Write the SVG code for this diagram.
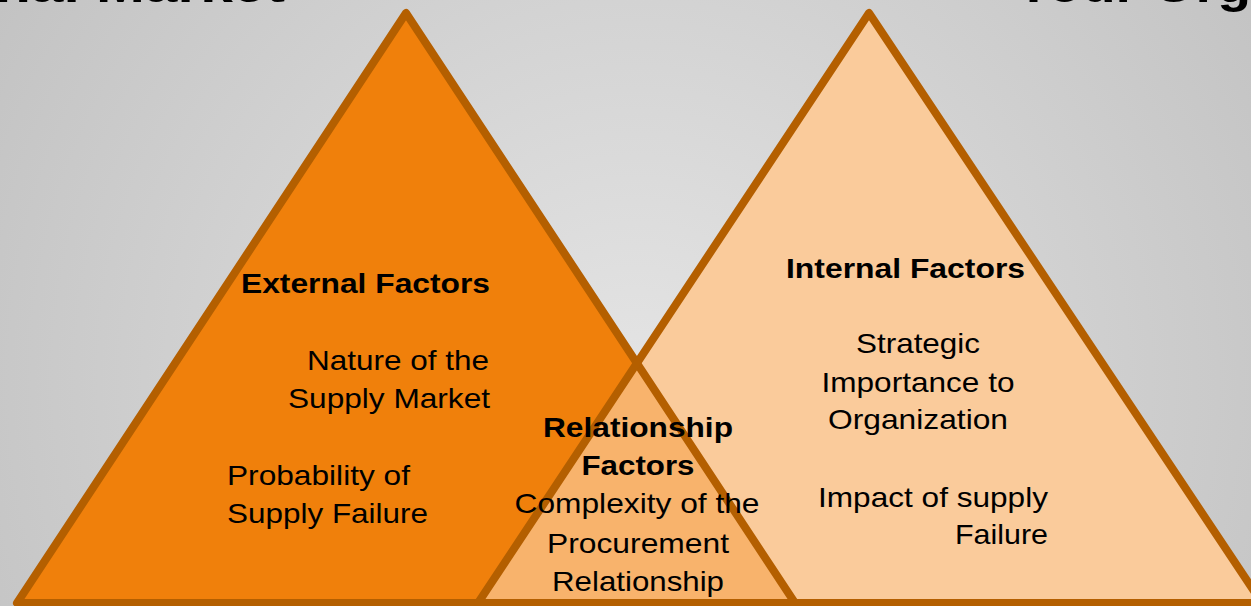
<svg xmlns="http://www.w3.org/2000/svg" width="1251" height="606" viewBox="0 0 1251 606">
<defs>
<radialGradient id="bg" cx="636" cy="380" r="760" gradientUnits="userSpaceOnUse">
<stop offset="0" stop-color="#E4E4E4"/>
<stop offset="1" stop-color="#C2C2C2"/>
</radialGradient>
</defs>
<style>
text{font-family:"Liberation Sans",Arial,sans-serif;font-size:28px;fill:#000}
.b{font-weight:bold}
.title{font-weight:bold;font-size:48px}
.edge{fill:none;stroke:#B45F00;stroke-width:8;stroke-linejoin:round}
.ext{fill:#F0800B}
.int{fill:#FACB9B}
.rel{fill:#F8B36C}
</style>
<rect x="0" y="0" width="1251" height="606" fill="url(#bg)"/>
<g id="titles">
<text class="title" x="-5" y="2" textLength="290" lengthAdjust="spacingAndGlyphs">nal Market</text>
<text class="title" x="1015" y="2" textLength="236" lengthAdjust="spacingAndGlyphs">Your Org</text>
</g>
<g id="external">
<polygon class="ext" points="406,13 17,603 795,603"/>
</g>
<g id="internal">
<polygon class="int" points="869,13 478,603 1262,603"/>
</g>
<g id="relationship">
<polygon class="rel" points="637,363 478,603 795,603"/>
</g>
<g id="outlines">
<polygon class="edge" points="406,13 17,603 795,603"/>
<polygon class="edge" points="869,13 478,603 1262,603"/>
</g>
<g id="external-text">
<text class="b" x="490" y="293" text-anchor="end" textLength="249" lengthAdjust="spacingAndGlyphs">External Factors</text>
<text x="489" y="370" text-anchor="end" textLength="182" lengthAdjust="spacingAndGlyphs">Nature of the</text>
<text x="490" y="408" text-anchor="end" textLength="202" lengthAdjust="spacingAndGlyphs">Supply Market</text>
<text x="227" y="485" textLength="183" lengthAdjust="spacingAndGlyphs">Probability of</text>
<text x="227" y="523" textLength="201" lengthAdjust="spacingAndGlyphs">Supply Failure</text>
</g>
<g id="internal-text">
<text class="b" x="786" y="278" textLength="239" lengthAdjust="spacingAndGlyphs">Internal Factors</text>
<text x="918" y="353" text-anchor="middle" textLength="124" lengthAdjust="spacingAndGlyphs">Strategic</text>
<text x="918" y="392" text-anchor="middle" textLength="193" lengthAdjust="spacingAndGlyphs">Importance to</text>
<text x="918" y="429" text-anchor="middle" textLength="180" lengthAdjust="spacingAndGlyphs">Organization</text>
<text x="1048" y="507" text-anchor="end" textLength="230" lengthAdjust="spacingAndGlyphs">Impact of supply</text>
<text x="1048" y="544" text-anchor="end" textLength="93" lengthAdjust="spacingAndGlyphs">Failure</text>
</g>
<g id="relationship-text">
<text class="b" x="638" y="437" text-anchor="middle" textLength="190" lengthAdjust="spacingAndGlyphs">Relationship</text>
<text class="b" x="638" y="475" text-anchor="middle" textLength="113" lengthAdjust="spacingAndGlyphs">Factors</text>
<text x="637" y="513" text-anchor="middle" textLength="245" lengthAdjust="spacingAndGlyphs">Complexity of the</text>
<text x="638" y="553" text-anchor="middle" textLength="182" lengthAdjust="spacingAndGlyphs">Procurement</text>
<text x="638" y="591" text-anchor="middle" textLength="172" lengthAdjust="spacingAndGlyphs">Relationship</text>
</g>
</svg>
